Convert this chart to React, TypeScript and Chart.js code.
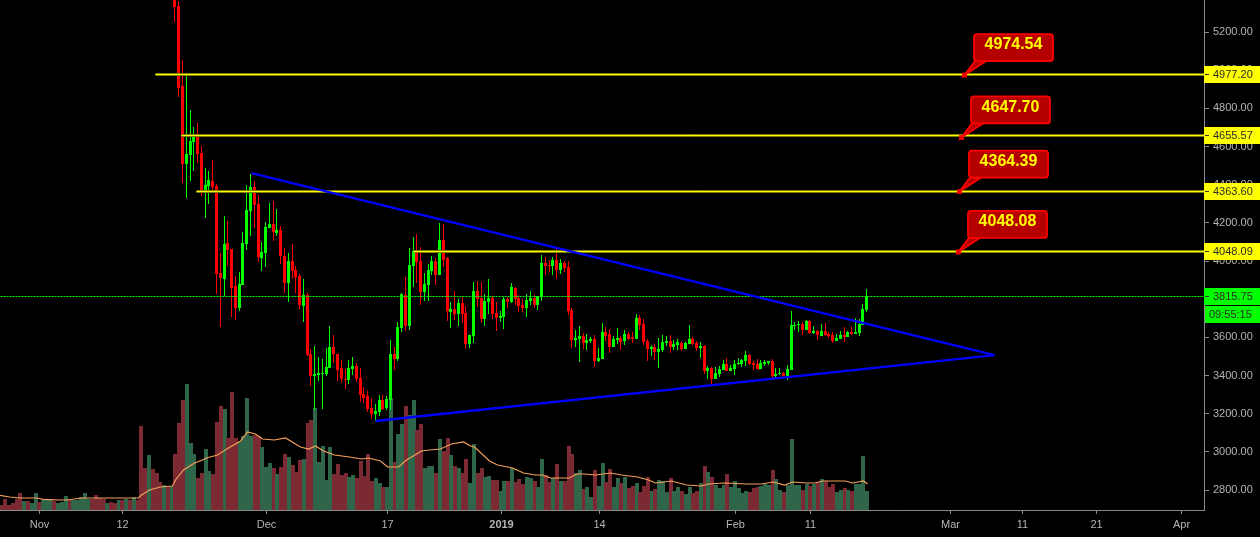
import { useEffect, useRef } from "react"
import { Chart, LinearScale, registerables } from "chart.js"

// linear scale that lands on whole pixels so the thin bars and level lines stay crisp
class SnapScale extends LinearScale {
  static id = "snap"
  static defaults = LinearScale.defaults
  getPixelForValue(value: number) {
    const o = this.options as any
    const p = super.getPixelForValue(value)
    return (o.snapFloor ? Math.floor(p) : Math.round(p)) + (o.snapOffset ?? 0.5)
  }
}

Chart.register(...registerables, SnapScale)

// x positions are bar numbers (12h bars), bar 0 = 1 Nov 2018
const firstCandle = 36
const opens = [
  5450, 5337, 4917, 4509, 4556, 4624, 4666, 4566, 4367, 4393, 4420, 4393, 3937, 3906, 4095, 4063, 3869, 3754, 3875, 4089,
  4262, 4388, 4299, 4016, 4042, 4173, 4194, 4147, 4163, 4027, 3885, 4000, 3953, 3922, 3765, 3822, 3513, 3398, 3403, 3408,
  3408, 3440, 3550, 3513, 3440, 3382, 3377, 3434, 3450, 3387, 3303, 3293, 3230, 3199, 3209, 3272, 3230, 3272, 3513, 3487,
  3649, 3822, 3660, 3974, 4053, 4000, 3838, 3875, 3948, 4000, 3927, 4110, 4016, 3733, 3749, 3723, 3780, 3728, 3565, 3607,
  3843, 3806, 3696, 3786, 3806, 3728, 3702, 3707, 3801, 3786, 3859, 3806, 3770, 3754, 3791, 3806, 3770, 3812, 3990, 3979,
  3974, 4006, 3953, 3990, 3969, 3744, 3586, 3592, 3607, 3571, 3581, 3592, 3476, 3487, 3628, 3618, 3550, 3586, 3597, 3581,
  3618, 3602, 3592, 3702, 3670, 3581, 3539, 3550, 3524, 3534, 3571, 3581, 3550, 3560, 3571, 3539, 3565, 3592, 3571, 3544,
  3555, 3424, 3440, 3382, 3408, 3429, 3461, 3424, 3434, 3461, 3461, 3476, 3508, 3466, 3461, 3434, 3461, 3466, 3476, 3398,
  3408, 3413, 3398, 3429, 3660, 3665, 3670, 3639, 3686, 3623, 3634, 3607, 3634, 3618, 3613, 3581, 3592, 3613, 3602, 3628,
  3618, 3623, 3665, 3744,
]
const highs = [
  5480, 5363, 5054, 4975, 4792, 4703, 4723, 4603, 4488, 4472, 4530, 4404, 4042, 4236, 4210, 4063, 3922, 3943, 4152, 4399,
  4456, 4420, 4346, 4100, 4205, 4304, 4315, 4273, 4184, 4068, 4042, 4089, 3974, 3932, 3906, 3833, 3539, 3555, 3497, 3487,
  3544, 3660, 3613, 3513, 3482, 3434, 3482, 3497, 3466, 3440, 3340, 3319, 3282, 3251, 3298, 3298, 3293, 3586, 3550, 3681,
  3833, 3916, 4068, 4126, 4142, 4074, 3937, 3985, 4027, 4016, 4200, 4194, 4021, 3786, 3843, 3801, 3812, 3765, 3613, 3890,
  3896, 3890, 3827, 3906, 3817, 3786, 3738, 3812, 3812, 3885, 3864, 3822, 3801, 3827, 3843, 3822, 3817, 4032, 4021, 4006,
  4021, 4068, 4011, 4000, 4000, 3754, 3639, 3660, 3623, 3618, 3602, 3613, 3544, 3675, 3654, 3644, 3607, 3649, 3607, 3639,
  3628, 3628, 3723, 3717, 3696, 3592, 3560, 3565, 3597, 3613, 3607, 3613, 3586, 3592, 3581, 3576, 3665, 3602, 3581, 3576,
  3560, 3450, 3445, 3445, 3450, 3482, 3492, 3455, 3482, 3492, 3487, 3529, 3513, 3476, 3487, 3482, 3482, 3476, 3487, 3440,
  3440, 3419, 3455, 3738, 3681, 3686, 3681, 3691, 3691, 3660, 3639, 3670, 3675, 3628, 3628, 3618, 3634, 3654, 3634, 3654,
  3702, 3696, 3775, 3854,
]
const lows = [
  5253, 4860, 4409, 4330, 4420, 4472, 4514, 4341, 4226, 4299, 4372, 3827, 3654, 3817, 3974, 3707, 3691, 3738, 3875, 4058,
  4131, 4173, 3995, 3948, 3969, 4173, 4105, 4131, 3985, 3833, 3786, 3906, 3833, 3749, 3681, 3503, 3345, 3220, 3372, 3225,
  3398, 3440, 3466, 3372, 3361, 3330, 3356, 3403, 3366, 3262, 3256, 3209, 3172, 3162, 3188, 3220, 3220, 3220, 3429, 3476,
  3628, 3634, 3639, 3864, 3885, 3770, 3791, 3791, 3927, 3875, 3927, 3969, 3686, 3649, 3691, 3660, 3675, 3539, 3544, 3571,
  3759, 3675, 3660, 3723, 3696, 3634, 3681, 3644, 3754, 3780, 3770, 3733, 3733, 3707, 3770, 3754, 3744, 3791, 3927, 3943,
  3927, 3906, 3932, 3943, 3717, 3544, 3550, 3471, 3539, 3534, 3571, 3445, 3471, 3487, 3581, 3518, 3550, 3565, 3534, 3560,
  3586, 3571, 3592, 3639, 3560, 3476, 3503, 3482, 3440, 3524, 3555, 3518, 3534, 3534, 3529, 3539, 3565, 3560, 3529, 3492,
  3408, 3382, 3356, 3382, 3392, 3429, 3424, 3424, 3403, 3455, 3445, 3450, 3455, 3429, 3434, 3434, 3450, 3455, 3382, 3392,
  3403, 3392, 3377, 3429, 3639, 3628, 3613, 3639, 3618, 3618, 3586, 3607, 3607, 3597, 3571, 3581, 3592, 3576, 3602, 3613,
  3618, 3607, 3665, 3733,
]
const closes = [
  5331, 4907, 4509, 4561, 4629, 4666, 4561, 4367, 4399, 4425, 4388, 3932, 3911, 4089, 4058, 3859, 3754, 3880, 4095, 4268,
  4388, 4294, 4021, 4048, 4179, 4194, 4152, 4163, 4027, 3885, 4000, 3948, 3916, 3770, 3822, 3508, 3398, 3408, 3413, 3413,
  3445, 3550, 3513, 3429, 3382, 3377, 3440, 3450, 3382, 3298, 3282, 3225, 3199, 3214, 3272, 3225, 3277, 3513, 3487, 3654,
  3827, 3660, 3979, 4053, 3995, 3838, 3880, 3953, 4000, 3927, 4110, 4006, 3738, 3749, 3723, 3780, 3723, 3565, 3613, 3843,
  3801, 3696, 3791, 3806, 3723, 3702, 3712, 3801, 3786, 3864, 3801, 3765, 3754, 3796, 3806, 3770, 3817, 3990, 3974, 3974,
  4006, 3953, 3990, 3964, 3738, 3586, 3597, 3607, 3571, 3586, 3592, 3476, 3492, 3628, 3607, 3550, 3592, 3597, 3576, 3618,
  3592, 3592, 3702, 3665, 3576, 3539, 3550, 3524, 3539, 3576, 3581, 3550, 3565, 3576, 3539, 3571, 3592, 3565, 3544, 3555,
  3424, 3440, 3382, 3413, 3434, 3461, 3424, 3440, 3461, 3466, 3482, 3508, 3461, 3455, 3434, 3466, 3471, 3476, 3398, 3408,
  3413, 3398, 3434, 3665, 3665, 3670, 3639, 3686, 3623, 3634, 3613, 3634, 3613, 3607, 3581, 3597, 3613, 3602, 3628, 3618,
  3628, 3670, 3749, 3817,
]

// volume, in arbitrary units, from bar -10 on
const firstVolume = -10
const volumes = [
  5, 11, 5, 7, 11, 17, 9, 9, 7, 17,
  8, 10, 10, 10, 9, 7, 8, 14, 10, 10,
  10, 13, 17, 11, 11, 15, 12, 11, 7, 8,
  7, 10, 10, 11, 10, 13, 10, 84, 42, 55,
  41, 37, 28, 25, 23, 24, 56, 87, 110, 126,
  67, 56, 32, 37, 61, 39, 36, 88, 104, 101,
  72, 118, 72, 68, 74, 112, 74, 75, 74, 63,
  43, 47, 42, 36, 43, 56, 53, 45, 38, 50,
  51, 87, 90, 102, 48, 64, 30, 63, 36, 46,
  35, 37, 33, 35, 32, 49, 34, 56, 29, 32,
  27, 23, 23, 112, 48, 76, 86, 104, 95, 110,
  80, 86, 42, 44, 44, 37, 71, 59, 72, 55,
  44, 42, 37, 51, 27, 66, 37, 42, 33, 34,
  30, 30, 19, 29, 29, 42, 28, 31, 26, 33,
  32, 29, 23, 51, 35, 28, 32, 46, 29, 29,
  64, 56, 37, 40, 21, 23, 13, 40, 24, 47,
  28, 41, 23, 32, 27, 33, 22, 24, 27, 18,
  24, 33, 19, 21, 30, 29, 18, 32, 19, 23,
  19, 16, 23, 17, 19, 27, 44, 38, 33, 25,
  22, 25, 36, 23, 29, 22, 17, 19, 18, 22,
  23, 24, 26, 25, 40, 31, 20, 18, 25, 71,
  25, 25, 20, 26, 24, 26, 28, 31, 29, 23,
  26, 18, 20, 22, 20, 19, 26, 26, 54, 19,
]
// up/down of the volume bars whose candles are above the top of the chart
const earlyUp = [
  0, 0, 0, 0, 0, 0, 1, 0, 1, 1, 0, 1, 1, 1, 0, 1, 1, 1, 0, 1, 1, 1, 1,
  1, 0, 0, 0, 0, 1, 0, 0, 1, 0, 1, 0, 1, 0, 0, 0, 1, 0, 0, 0, 1, 0, 1,
]

// moving average over the volume
const avgBars = [
  -11, -8, -5, -1, 1, 5, 7, 11, 15, 26, 27, 29, 32, 35, 36, 38, 41, 43, 44, 47, 50, 53, 55, 57, 59, 62, 65, 69,
  71, 73, 75, 78, 82, 85, 87, 90, 92, 95, 97, 101, 103, 106, 109, 112, 114, 115, 119, 121, 125, 128, 131, 133, 135, 140, 142, 144, 147,
  151, 154, 158, 161, 163, 167, 171, 175, 177, 181, 187, 191, 194, 197, 199, 203, 205, 207, 213, 215, 218, 219,
]
const avgValues = [
  15, 13, 12, 12, 10.7, 10, 10, 12, 12, 12, 15, 20, 23, 24, 30, 40, 47, 50, 52, 55, 62, 69, 78, 76, 71, 70, 72, 63,
  61, 64, 59, 55, 53, 51, 52, 49, 43, 43, 50, 59, 60, 61, 66, 68, 64, 63, 49, 45, 42, 37, 35, 35, 32, 32, 36, 36, 35,
  37, 35, 33, 30, 27, 29, 25, 24, 26, 27, 26, 26, 28, 25, 28, 27, 27, 29, 29, 27, 29, 26,
]

// horizontal levels
const levelPrices = [4977.2, 4655.57, 4363.6, 4048.09]
const levelStarts = [30.6, 37.4, 41.4, 98.8]
const lastPrice = 3815.75
const countdown = "09:55:15"

// triangle drawn on the chart
const upperTrend = [{ x: 56, y: 4461 }, { x: 252.6, y: 3507 }]
const lowerTrend = [{ x: 88.8, y: 3162 }, { x: 252.6, y: 3507 }]

// callouts
const calloutPrices = [4974.54, 4647.7, 4364.39, 4048.08]
const calloutBars = [244.6, 243.9, 243.2, 242.9]

const priceTicks = [5200, 5000, 4800, 4600, 4400, 4200, 4000, 3800, 3600, 3400, 3200, 3000, 2800]
const timeTicks = [0, 22, 60, 92, 122, 148, 184, 204, 241, 260, 279.5, 302]
const timeLabels = ["Nov", "12", "Dec", "17", "2019", "14", "Feb", "11", "Mar", "11", "21", "Apr"]

const UP = "#00ff00"
const DOWN = "#ff0000"
const VOL_UP = "#2f6649"
const VOL_DOWN = "#7b2a33"
const YELLOW = "#ffff00"
const AXIS = "#8a8a8a"
const FONT = "'Liberation Sans', Arial, sans-serif"
const X_MIN = -10.4
const X_MAX = 308.1
const Y_MIN = 2695.6
const Y_MAX = 5368

const candleBars = opens.map((_, i) => firstCandle + i)
const candleColors = opens.map((o, i) => (closes[i] >= o ? UP : DOWN))
const volumeColors = volumes.map((_, i) => {
  const c = i + firstVolume - firstCandle
  return (c < 0 ? earlyUp[i] === 1 : closes[c] >= opens[c]) ? VOL_UP : VOL_DOWN
})

const labelsPlugin = {
  id: "priceLabels",
  afterDraw(chart: Chart) {
    const { ctx } = chart
    const y = chart.scales.y
    const x = chart.scales.x

    const tag = (top: number, left: number, bg: string, text: string, textX: number) => {
      ctx.fillStyle = bg
      ctx.fillRect(left, top, 1260 - left, 17)
      ctx.fillStyle = "#2b2b2b"
      ctx.font = `11px ${FONT}`
      ctx.textAlign = "left"
      ctx.textBaseline = "middle"
      ctx.fillText(text, textX, top + 9)
    }

    ctx.save()
    levelPrices.forEach((p) => {
      const py = Math.floor(y.getPixelForValue(p))
      tag(py - 8, 1204, YELLOW, p.toFixed(2), 1213)
      ctx.fillStyle = "#333"
      ctx.fillRect(1205, py, 4, 1)
    })
    const lastY = Math.floor(y.getPixelForValue(lastPrice))
    tag(lastY - 8, 1204, UP, lastPrice.toFixed(2), 1213)
    ctx.fillStyle = "#333"
    ctx.fillRect(1205, lastY, 4, 1)
    tag(lastY + 10, 1205, UP, countdown, 1209)

    calloutPrices.forEach((p, i) => {
      const ax = x.getPixelForValue(calloutBars[i])
      const ay = y.getPixelForValue(p)
      const left = ax + 9.5
      const top = ay - 41
      const w = 79
      const h = 27

      ctx.lineWidth = 1.8
      ctx.strokeStyle = DOWN
      ctx.fillStyle = "#b50000"
      ctx.beginPath()
      ctx.moveTo(ax, ay)
      ctx.lineTo(left + 1, top + h)
      ctx.lineTo(left + 12, top + h)
      ctx.closePath()
      ctx.fill()
      ctx.stroke()

      ctx.beginPath()
      ctx.roundRect(left, top, w, h, 3)
      ctx.fill()
      ctx.stroke()

      ctx.fillStyle = "#b50000"
      ctx.fillRect(ax - 1.5, ay - 1.5, 3, 3)
      ctx.strokeRect(ax - 1.5, ay - 1.5, 3, 3)

      ctx.fillStyle = YELLOW
      ctx.font = `bold 16px ${FONT}`
      ctx.textAlign = "center"
      ctx.textBaseline = "middle"
      ctx.fillText(p.toFixed(2), left + w / 2, top + h / 2 - 2.5)
    })
    ctx.restore()
  },
}

export default function App() {
  const chartRef = useRef<HTMLCanvasElement>(null)

  useEffect(() => {
    if (!chartRef.current) return
    document.body.style.margin = "0"
    document.body.style.background = "#000"

    const lineBase = { type: "line" as const, pointRadius: 0, tension: 0, xAxisID: "x", yAxisID: "y" }
    const levelBase = { ...lineBase, yAxisID: "yl" }
    const barBase = { type: "bar" as const, grouped: false, borderWidth: 0, inflateAmount: 0 }

    const chart = new Chart(chartRef.current, {
      data: {
        datasets: [
          ...levelPrices.map((p, i) => ({
            ...levelBase,
            order: 2,
            data: [{ x: levelStarts[i], y: p }, { x: 320, y: p }],
            borderColor: YELLOW,
            borderWidth: 1,
          })),
          ...levelPrices.map((p, i) => ({
            ...levelBase,
            order: 2.5,
            data: [{ x: levelStarts[i], y: p }, { x: 320, y: p }],
            borderColor: "#808000",
            borderWidth: 3,
          })),
          {
            ...levelBase,
            order: 3,
            data: [{ x: -20, y: lastPrice }, { x: 320, y: lastPrice }],
            borderColor: UP,
            borderWidth: 1,
            borderDash: [2, 1],
          },
          { ...lineBase, order: 1, data: upperTrend, borderColor: "#0000ff", borderWidth: 2.4 },
          { ...lineBase, order: 1, data: lowerTrend, borderColor: "#0000ff", borderWidth: 2.4 },
          {
            ...barBase,
            order: 4,
            xAxisID: "xc",
            barThickness: 3,
            backgroundColor: candleColors,
            data: candleBars.map((b, i) => ({ x: b, y: [opens[i], closes[i]] })),
          },
          {
            ...barBase,
            order: 5,
            xAxisID: "xc",
            barThickness: 1,
            backgroundColor: candleColors,
            data: candleBars.map((b, i) => ({ x: b, y: [lows[i], highs[i]] })),
          },
          {
            ...lineBase,
            order: 6,
            yAxisID: "yv",
            data: avgBars.map((b, i) => ({ x: b, y: avgValues[i] })),
            borderColor: "#f5a05a",
            borderWidth: 1.2,
          },
          {
            ...barBase,
            order: 7,
            xAxisID: "xv",
            yAxisID: "yv",
            barThickness: 4,
            backgroundColor: volumeColors,
            data: volumes.map((v, i) => ({ x: i + firstVolume, y: v })),
          },
        ] as any,
      },
      options: {
        responsive: false,
        animation: false,
        layout: { padding: 0 },
        plugins: { legend: { display: false }, tooltip: { enabled: false } },
        scales: {
          x: {
            type: "snap" as any,
            position: "bottom",
            offset: false,
            min: X_MIN,
            max: X_MAX,
            afterBuildTicks: (s: any) => {
              s.ticks = timeTicks.map((value) => ({ value }))
            },
            afterFit: (s: any) => {
              s.height = 27
              s.paddingLeft = 0
              s.paddingRight = 0
            },
            grid: { drawOnChartArea: false, offset: false, color: AXIS, tickLength: 4 },
            border: { color: AXIS },
            ticks: {
              autoSkip: false,
              maxRotation: 0,
              padding: 4,
              color: "#b4b4b4",
              font: (c: any) => ({
                family: FONT,
                size: 11,
                weight: c.tick?.label === "2019" ? "bold" : "normal",
              }),
              callback: (_v: any, i: number) => timeLabels[i],
            },
          },
          // hidden twins of x: candles and volume bars each sit on their own pixel columns
          xc: { type: "snap" as any, axis: "x", offset: false, snapOffset: -0.5, display: false, min: X_MIN, max: X_MAX } as any,
          xv: { type: "snap" as any, axis: "x", offset: false, snapOffset: 0, display: false, min: X_MIN, max: X_MAX } as any,
          y: {
            position: "right",
            min: Y_MIN,
            max: Y_MAX,
            afterBuildTicks: (s: any) => {
              s.ticks = priceTicks.map((value) => ({ value }))
            },
            afterFit: (s: any) => {
              s.width = 56
              s.paddingTop = 0
              s.paddingBottom = 0
            },
            grid: { drawOnChartArea: false, color: AXIS, tickLength: 5 },
            border: { color: AXIS },
            ticks: {
              padding: 4,
              color: "#b4b4b4",
              font: { family: FONT, size: 11 },
              callback: (v: any) => Number(v).toFixed(2),
            },
          },
          yl: { type: "snap" as any, axis: "y", snapFloor: true, display: false, min: Y_MIN, max: Y_MAX } as any,
          yv: { type: "linear", axis: "y", display: false, min: 0, max: 510 } as any,
        },
      },
      plugins: [labelsPlugin],
    })

    return () => chart.destroy()
  }, [])

  return <canvas ref={chartRef} width={1260} height={537} style={{ display: "block", background: "#000" }} />
}
